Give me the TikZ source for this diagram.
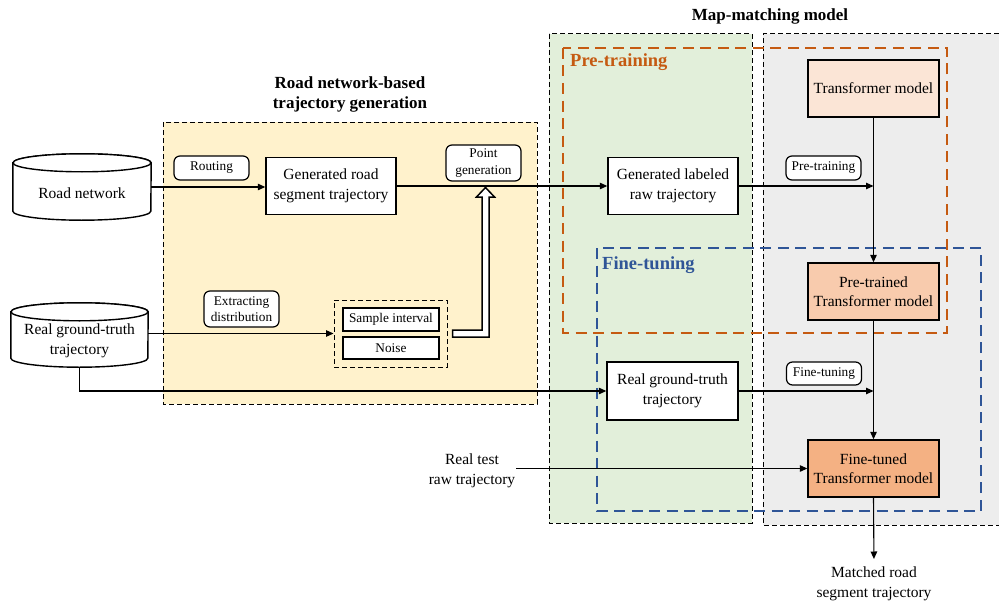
\documentclass[tikz,border=0pt]{standalone}
\usepackage{fontspec}
\setmainfont{Liberation Serif}
\usetikzlibrary{arrows.meta,calc}
\newcommand{\mainfs}{\fontsize{15.5}{19.5}\selectfont}
\newcommand{\lblfs}{\fontsize{13.3}{16.5}\selectfont}
\newcommand{\ttlfs}{\fontsize{17}{20}\selectfont\bfseries}
\definecolor{yelfill}{HTML}{FFF2CC}
\definecolor{grnfill}{HTML}{E2EFDA}
\definecolor{gryfill}{HTML}{EDEDED}
\definecolor{orgline}{HTML}{C55A11}
\definecolor{bluline}{HTML}{2F5597}
\definecolor{tmfill}{HTML}{FBE5D6}
\definecolor{ptfill}{HTML}{F8CBAD}
\definecolor{ftfill}{HTML}{F4B183}
\begin{document}
\begin{tikzpicture}[x=1pt,y=-1pt,
  box/.style={draw, line width=1.4pt, fill=white, minimum width=131pt, minimum height=57pt, inner sep=0pt, align=center, font=\mainfs},
  lbl/.style={draw, line width=1.2pt, rounded corners=6pt, fill=white, inner sep=0pt, align=center, font=\lblfs, minimum width=75pt},
  smallbox/.style={draw, line width=1.4pt, fill=white, inner sep=0pt, minimum width=96pt, font=\lblfs},
  arr/.style={line width=1.1pt, -{Triangle[length=7.5pt,width=6.5pt]}},
  grp/.style={draw=black, line width=1pt, dash pattern=on 5pt off 3pt},
  phase/.style={line width=2.7pt, dash pattern=on 11pt off 6.5pt},
  cyl/.style={draw, line width=1.4pt, fill=white},
  plain/.style={inner sep=0pt, align=center, font=\mainfs}
]
\useasboundingbox (0,0) rectangle (999,602);

% background groups
\fill[gryfill] (763,34) rectangle (999,525);
\draw[grp] (999,34) -- (763,34) -- (763,525) -- (999,525);
\filldraw[fill=grnfill, grp] (549,34) rectangle (752,523);
\filldraw[fill=yelfill, grp] (163,122) rectangle (537,404);

\draw[phase, orgline] (563,48) rectangle (947,333);
\draw[phase, bluline] (597,248) rectangle (981,511);
\node[anchor=west, inner sep=0pt, text=orgline, font=\fontsize{18.5}{20}\selectfont\bfseries] (ptl) at (570,62) {Pre-training};
\node[anchor=west, inner sep=0pt, text=bluline, font=\fontsize{18.5}{20}\selectfont\bfseries] (ftl) at (602,265) {Fine-tuning};

% titles
\node[plain, font=\ttlfs] (t1) at (350,94) {Road network-based\\trajectory generation};
\node[plain, font=\ttlfs] (t2) at (770,16) {Map-matching model};

% cylinders
\node[minimum width=138pt, minimum height=48pt, inner sep=0pt] (rn) at (82,187) {};
\filldraw[cyl] (rn.north west) -- (rn.south west) arc[start angle=180, end angle=360, x radius=69pt, y radius=9pt] -- (rn.north east) arc[start angle=0, end angle=180, x radius=69pt, y radius=9pt] -- cycle;
\draw[cyl] (rn.north) ellipse [x radius=69pt, y radius=9pt];
\node[plain] (rnt) at (82,193) {Road network};

\node[minimum width=137pt, minimum height=46pt, inner sep=0pt] (rg) at (79.5,335) {};
\filldraw[cyl] (rg.north west) -- (rg.south west) arc[start angle=180, end angle=360, x radius=68.5pt, y radius=9pt] -- (rg.north east) arc[start angle=0, end angle=180, x radius=68.5pt, y radius=9pt] -- cycle;
\draw[cyl] (rg.north) ellipse [x radius=68.5pt, y radius=9pt];
\node[plain] (rgt) at (79.5,341) {Real ground-truth\\trajectory};
\coordinate (rgbot) at ($(rg.south)+(0,9)$);

% boxes
\node[box, minimum width=130pt] (gr) at (331,186) {Generated road\\segment trajectory};
\node[box, minimum width=130pt] (gl) at (673,186) {Generated labeled\\raw trajectory};
\node[box, minimum width=131pt, minimum height=58pt] (rgb) at (672.5,391) {Real ground-truth\\trajectory};
\node[box, fill=tmfill] (tm) at (873.5,88.5) {Transformer model};
\node[box, fill=ptfill] (pt) at (873.5,291.5) {Pre-trained\\Transformer model};
\node[box, fill=ftfill] (ft) at (873.5,468.5) {Fine-tuned\\Transformer model};

% labels
\node[lbl, minimum height=24pt] (routing) at (211.5,168) {Routing};
\node[lbl, minimum height=36pt] (pgen) at (483.5,163) {Point\\generation};
\node[lbl, minimum height=36pt] (extr) at (241.5,309) {Extracting\\distribution};
\node[lbl, minimum height=24pt] (prel) at (823.5,168) {Pre-training};
\node[lbl, minimum height=23pt] (finel) at (824,373.5) {Fine-tuning};

% sampling box
\node[grp, minimum width=113pt, minimum height=67pt, inner sep=0pt] (ib) at (390.5,333.5) {};
\node[smallbox, minimum height=23pt] (si) at (391,319.5) {Sample interval};
\node[smallbox, minimum height=22pt] (noise) at (391,348) {Noise};

% free texts
\node[plain, inner sep=1pt] (rt) at (472,471) {Real test\\raw trajectory};
\node[plain, anchor=north] (mt) at (874,567) {Matched road\\segment trajectory};

% connectors
\draw[arr] (rn.east) -- (rn.east -| gr.west);
\draw[arr] (gr.east) -- (gl.west);
\draw[arr] (gl.east) -- (gl.east -| tm.south);
\draw[arr] (tm.south) -- (pt.north);
\draw[arr] (rgb.east) -- (rgb.east -| pt.south);
\draw[arr] (pt.south) -- (ft.north);
\draw[arr] (rt.east |- ft.west) -- (ft.west);
\draw[arr, shorten >=8pt] (ft.south) -- (mt.north);
\draw[arr] (rg.east |- ib.west) -- (ib.west);
\draw[arr] (rgbot) |- (rgb.west);

% hollow arrow from sampling box to point generation
\filldraw[fill=white, draw=black, line width=1.5pt, line join=miter]
  ($(ib.east)+(5,-3.5)$) -- (482,330) -- (482,197) -- (476.5,197) -- (485.5,187.5) -- (494.5,197) -- (489,197) -- (489,337) -- ($(ib.east)+(5,3.5)$) -- cycle;
\end{tikzpicture}
\end{document}
